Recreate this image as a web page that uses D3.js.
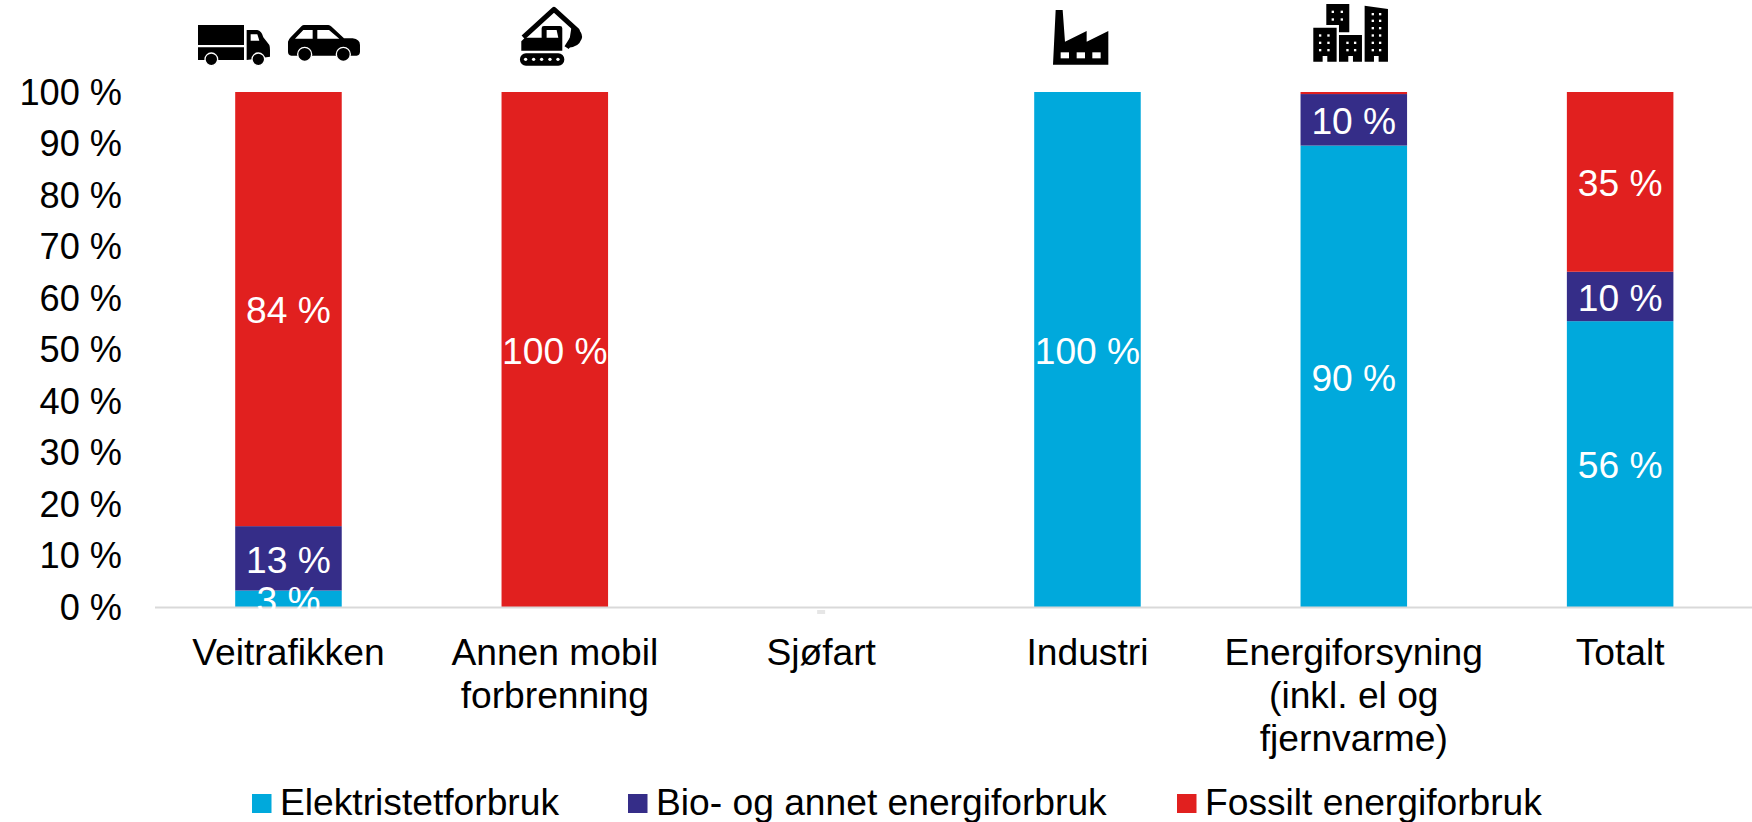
<!DOCTYPE html>
<html><head><meta charset="utf-8">
<script src="https://cdn.jsdelivr.net/npm/d3@7"></script>
<style>html,body{margin:0;padding:0;background:#fff}svg{display:block}text{font-family:"Liberation Sans",Arial,sans-serif}</style>
</head><body><svg id="c" width="1752" height="822"></svg>
<script>
const categories = ["Veitrafikken","Annen mobil forbrenning","Sjøfart","Industri","Energiforsyning (inkl. el og fjernvarme)","Totalt"];
const categoryLines = [["Veitrafikken"],["Annen mobil","forbrenning"],["Sjøfart"],["Industri"],["Energiforsyning","(inkl. el og","fjernvarme)"],["Totalt"]];
const seriesNames = ["Elektristetforbruk","Bio- og annet energiforbruk","Fossilt energiforbruk"];
const elektrisitet = [3.2,0,0,100,89.6,55.5];
const bio = [12.5,0,0,0,10,9.6];
const fossilt = [84.3,100,0,0,0.4,34.9];
const colors = ["#00a9dc","#352d88","#e1201f"];
const yTicks = [0,10,20,30,40,50,60,70,80,90,100];
const FS = 37.2;

const svg = d3.select("#c");
const x = d3.scaleBand().domain(categories).range([155.3,1753.3]).paddingInner(0.6).paddingOuter(0.3);
const y = d3.scaleLinear().domain([0,100]).range([607,92]);
const stackData = categories.map((c,i)=>({cat:c,e:elektrisitet[i],b:bio[i],f:fossilt[i]}));
const stack = d3.stack().keys(["e","b","f"])(stackData);

// bars
stack.forEach((s,k)=>{
  svg.append("g").selectAll("rect").data(s).join("rect")
    .attr("x",d=>x(d.data.cat)).attr("width",x.bandwidth())
    .attr("y",d=>y(d[1])).attr("height",d=>y(d[0])-y(d[1]))
    .attr("fill",colors[k]);
});
// axis line
svg.append("line").attr("x1",155).attr("x2",1752).attr("y1",y(0)+0.5).attr("y2",y(0)+0.5).attr("stroke","#d9d9d9").attr("stroke-width",2);
// y labels
const yAxis = d3.axisLeft(y).tickValues(yTicks).tickFormat(d=>d+" %").tickSize(0).tickPadding(0);
const gy = svg.append("g").attr("transform","translate(122,-1)").call(yAxis);
gy.select(".domain").remove();
gy.selectAll("text").attr("font-size",36.2).attr("fill","#000").attr("dy","0.36em").style("font-family",'"Liberation Sans"');
// value labels
stack.forEach((s,k)=>{
  svg.append("g").selectAll("text").data(s.filter(d=>d[1]-d[0]>=1)).join("text")
    .attr("x",d=>x(d.data.cat)+x.bandwidth()/2).attr("y",d=>y((d[0]+d[1])/2)+1)
    .attr("dy","0.36em").attr("text-anchor","middle").attr("font-size",FS).attr("fill","#fff")
    .text(d=>Math.round(d[1]-d[0])+" %");
});
// empty-value dash at Sjøfart
svg.append("rect").attr("x",x("Sjøfart")+x.bandwidth()/2-4).attr("y",y(0)+3).attr("width",8).attr("height",4).attr("fill","#e6e6e6");
// category labels
categories.forEach((c,i)=>{
  const t = svg.append("text").attr("text-anchor","middle").attr("font-size",FS).attr("fill","#000");
  categoryLines[i].forEach((l,j)=>t.append("tspan").attr("x",x(c)+x.bandwidth()/2).attr("y",665+j*43).text(l));
});
// legend
const legendX = [252,628,1177];
seriesNames.forEach((n,i)=>{
  svg.append("rect").attr("x",legendX[i]).attr("y",794).attr("width",19.5).attr("height",19).attr("fill",colors[i]);
  svg.append("text").attr("x",legendX[i]+28).attr("y",815).attr("font-size",FS).attr("fill","#000").text(n);
});
// icons (decorative, traced at 3x)
const ic1 = svg.append("g").attr("transform","translate(180,0) scale(0.3333)");
ic1.append("path").attr("d","M54,75H192V135H54Z M54,142H192V180H54Z M200,90H232Q245,92 250,112L268,135Q270,140 270,150V170L200,180Z");
ic1.append("path").attr("fill","#fff").attr("d","M212,103H232L238,122H212Z");
[[94,178],[235,178]].forEach(p=>ic1.append("circle").attr("cx",p[0]).attr("cy",p[1]).attr("r",19).attr("stroke","#fff").attr("stroke-width",4));
ic1.append("path").attr("d","M324,125Q326,118 332,112L365,78Q368,75 372,75H445Q450,75 455,80L492,115H518Q540,118 540,135V155Q540,165 530,167H334Q324,165 324,155Z");
ic1.append("path").attr("fill","#fff").attr("d","M345,116L370,90H398V116Z M412,90H447L478,116H412Z");
[[374,163],[490,163]].forEach(p=>ic1.append("circle").attr("cx",p[0]).attr("cy",p[1]).attr("r",21).attr("stroke","#fff").attr("stroke-width",4));
ic1.append("path").attr("fill","none").attr("stroke","#000").attr("stroke-width",15).attr("stroke-linejoin","round").attr("d","M1030,112L1122,28L1192,92L1160,143");
ic1.append("path").attr("d","M1175,78L1197,90Q1210,103 1205,117Q1195,143 1165,143Z");
ic1.append("path").attr("d","M1035,113H1085V85Q1085,78 1092,78H1140Q1147,78 1147,85V152H1024V124Z");
ic1.append("path").attr("fill","#fff").attr("d","M1100,90H1130L1135,113H1100Z");
ic1.append("rect").attr("x",1020).attr("y",160).attr("width",133).attr("height",37).attr("rx",18);
[1037,1061,1085,1110,1134].forEach(cx=>ic1.append("circle").attr("cx",cx).attr("cy",178).attr("r",5).attr("fill","#fff"));

const ic2 = svg.append("g").attr("transform","translate(1020,0) scale(0.3333)");
ic2.append("path").attr("d","M107,30H128L135,125L200,93V125L265,93V194H99Z");
[122,170,217].forEach(wx=>ic2.append("rect").attr("x",wx).attr("y",157).attr("width",25).attr("height",18).attr("fill","#fff"));
ic2.append("path").attr("d","M919,12H988V97H957V75H919Z");
ic2.append("path").attr("d","M880,83H950V185H922V168H908V185H880Z");
ic2.append("path").attr("d","M957,105H1026V185H999V168H985V185H957Z");
ic2.append("path").attr("d","M1034,17L1104,27V185H1076V168H1062V185H1034Z");
const dots = [];
[938,965].forEach(dx=>[35,58].forEach(dy=>dots.push([dx,dy])));
[900,925].forEach(dx=>[106,128,150].forEach(dy=>dots.push([dx,dy])));
[982,1005].forEach(dx=>[128,150].forEach(dy=>dots.push([dx,dy])));
[1058,1080].forEach(dx=>[42,62,84,106,128,150].forEach(dy=>dots.push([dx,dy])));
ic2.selectAll("rect.d").data(dots).join("rect").attr("class","d").attr("x",d=>d[0]-3).attr("y",d=>d[1]-3).attr("width",7).attr("height",7).attr("fill","#fff");
</script></body></html>
